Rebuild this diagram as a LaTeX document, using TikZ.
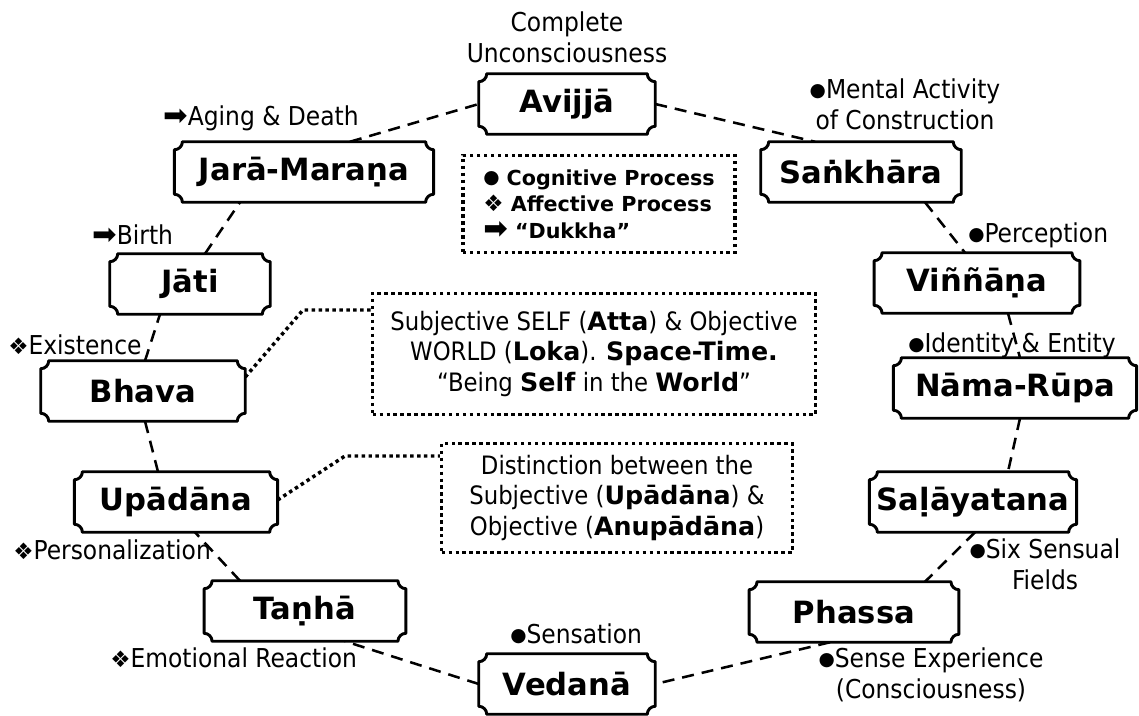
\documentclass[tikz,border=0pt]{standalone}
\usepackage{fontspec}
\setmainfont{DejaVu Sans Condensed}[BoldFont=DejaVu Sans Bold]
\newfontfamily\dingfont{DejaVu Sans}
\usetikzlibrary{calc}

\newcommand{\stagefont}{\bfseries\fontsize{23}{27}\selectfont}
\newcommand{\notefont}{\fontsize{19.5}{23.5}\selectfont}
\newcommand{\boxfont}{\fontsize{19}{23}\selectfont}
\newcommand{\keyfont}{\bfseries\fontsize{15.5}{20}\selectfont}
\newcommand{\cog}{\raisebox{1.5pt}{\dingfont\fontsize{14}{14}\selectfont ●}}
\newcommand{\aff}{{\dingfont\fontsize{17}{17}\selectfont ❖}}
\newcommand{\duk}{{\dingfont\fontsize{22}{22}\selectfont ➡}}

\tikzset{
  stage/.style={inner sep=0pt, minimum height=45pt, font=\stagefont},
  plaque/.style={line width=2.2pt, line join=round},
  ring/.style={line width=1.9pt, dash pattern=on 9pt off 6pt},
  dotline/.style={line width=2.6pt, dash pattern=on 2.6pt off 2.6pt},
  note/.style={inner sep=0pt, font=\notefont},
  infobox/.style={draw, dotline, inner sep=0pt, align=center, font=\boxfont}
}

\begin{document}
\begin{tikzpicture}[x=0.75pt,y=-0.75pt]
\useasboundingbox (0,0) rectangle (1139,715);
%----the twelve stages----------------------------
\node[stage, minimum width=132pt] (avijja)     at (567,104) {Avijjā};
\node[stage, minimum width=150pt] (sankhara)   at (861,172) {Saṅkhāra};
\node[stage, minimum width=154pt] (vinnana)    at (977,283) {Viññāṇa};
\node[stage, minimum width=182pt] (namarupa)   at (1015,388) {Nāma-Rūpa};
\node[stage, minimum width=155pt] (salayatana) at (973,502) {Saḷāyatana};
\node[stage, minimum width=157pt] (phassa)     at (854,612) {Phassa};
\node[stage, minimum width=132pt] (vedana)     at (567,684) {Vedanā};
\node[stage, minimum width=151pt] (tanha)      at (305,611) {Taṇhā};
\node[stage, minimum width=152pt] (upadana)    at (176,502) {Upādāna};
\node[stage, minimum width=153pt] (bhava)      at (143,391) {Bhava};
\node[stage, minimum width=120pt] (jati)       at (190,284) {Jāti};
\node[stage, minimum width=194pt] (jara)       at (304,172) {Jarā-Maraṇa};
%----plaque outlines------------------------------
\foreach \n in {avijja,sankhara,vinnana,namarupa,salayatana,phassa,vedana,tanha,upadana,bhava,jati,jara}
  \draw[plaque] ([xshift=6pt]\n.north west) -- ([xshift=-6pt]\n.north east)
    arc[start angle=180, end angle=270, radius=6pt]
    -- ([yshift=6pt]\n.south east)
    arc[start angle=90, end angle=180, radius=6pt]
    -- ([xshift=6pt]\n.south west)
    arc[start angle=0, end angle=90, radius=6pt]
    -- ([yshift=-6pt]\n.north west)
    arc[start angle=270, end angle=360, radius=6pt] -- cycle;
%----dashed ring----------------------------------
\draw[ring] (avijja.east) -- ($(sankhara.north)+(-46,0)$);
\draw[ring] ($(sankhara.south)+(64,0)$) -- ($(vinnana.north)+(-12,0)$);
\draw[ring] ($(vinnana.south)+(31,0)$) -- ($(namarupa.north)+(5,0)$);
\draw[ring] ($(namarupa.south)+(5,0)$) -- ($(salayatana.north)+(35,0)$);
\draw[ring] ($(salayatana.south)+(2,0)$) -- ($(phassa.north)+(71,0)$);
\draw[ring] ($(phassa.south)+(-24,0)$) -- (vedana.east);
\draw[ring] (vedana.west) -- ($(tanha.south)+(40,0)$);
\draw[ring] ($(tanha.north)+(-65,0)$) -- ($(upadana.south)+(19,0)$);
\draw[ring] ($(upadana.north)+(-18,0)$) -- ($(bhava.south)+(2,0)$);
\draw[ring] ($(bhava.north)+(2,0)$) -- ($(jati.south)+(-30,0)$);
\draw[ring] ($(jati.north)+(15,0)$) -- ($(jara.south)+(-64,0)$);
\draw[ring] ($(jara.north)+(46,0)$) -- (avijja.west);
%----boxes in the middle--------------------------
\node[infobox, align=left, font=\keyfont, minimum width=204pt, minimum height=73pt] (legend) at (599,204)
  {\cog\ Cognitive Process\\ \aff\ Affective Process\\ \duk\ “Dukkha”};
\node[infobox, minimum width=332pt, minimum height=91pt] (selfbox) at (594,354)
  {Subjective SELF (\textbf{Atta}) \& Objective\\ WORLD (\textbf{Loka}). \textbf{Space-Time.}\\ “Being \textbf{Self} in the \textbf{World}”};
\node[infobox, minimum width=263pt, minimum height=82pt] (distbox) at (617,498)
  {Distinction between the\\ Subjective (\textbf{Upādāna}) \&\\ Objective (\textbf{Anupādāna})};
\coordinate (bend1) at (303,310);
\coordinate (bend2) at (345,456);
\draw[dotline] ($(bhava.east)+(0,-14)$) -- (bend1) -- (selfbox.west |- bend1);
\draw[dotline] ($(upadana.east)+(0,-2)$) -- (bend2) -- (distbox.west |- bend2);
%----text-----------------------------------------
\node[note, align=center] (t0) at (567,37) {Complete\\ Unconsciousness};
\node[note, align=center] (t1) at (905,104) {\cog Mental Activity\\ of Construction};
\node[note, anchor=west] (t2) at (968,235) {\cog Perception};
\node[note, anchor=west] (t3) at (908,345) {\cog Identity \& Entity};
\node[note, align=center] (t4) at (1045,564) {\cog Six Sensual\\ Fields};
\node[note, align=center] (t5) at (931,675) {\cog Sense Experience\\ (Consciousness)};
\node[note, anchor=west] (t6) at (510,634) {\cog Sensation};
\node[note, anchor=west] (t7) at (110,658) {\aff Emotional Reaction};
\node[note, anchor=west] (t8) at (13,550) {\aff Personalization};
\node[note, anchor=west] (t9) at (8,345) {\aff Existence};
\node[note, anchor=west] (t10) at (92,235) {\duk Birth};
\node[note, anchor=west] (t11) at (163,118) {\duk Aging \& Death};
\end{tikzpicture}
\end{document}
